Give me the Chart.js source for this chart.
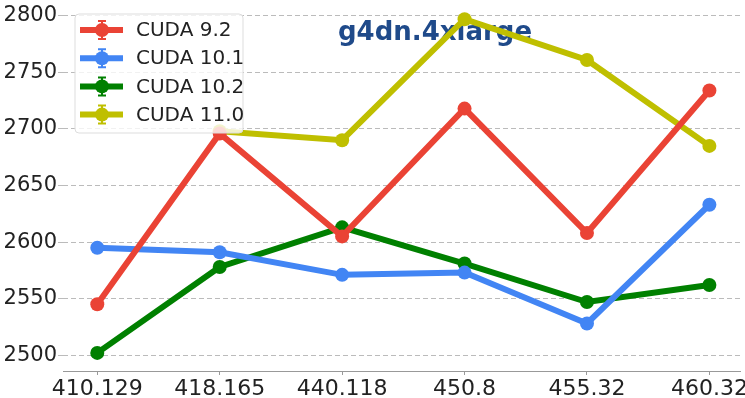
<!DOCTYPE html>
<html>
<head>
<meta charset="utf-8">
<script src="https://cdn.jsdelivr.net/npm/chart.js@4"></script>
<style>
  body { margin: 0; background: #fff; }
  #wrap { width: 745px; height: 398px; }
</style>
</head>
<body>
<div id="wrap"><canvas id="myChart" width="745" height="398"></canvas></div>
<script>
const categories = ['410.129', '418.165', '440.118', '450.8', '455.32', '460.32'];
const seriesNames = ['CUDA 9.2', 'CUDA 10.1', 'CUDA 10.2', 'CUDA 11.0'];
const cuda92 = [2545, 2696, 2605, 2718, 2608, 2734];
const cuda101 = [2595, 2591, 2571, 2573, 2528, 2633];
const cuda102 = [2502, 2578, 2613, 2581, 2547, 2562];
const cuda110 = [null, 2698, 2690, 2797, 2761, 2685];
const yTicks = [2500, 2550, 2600, 2650, 2700, 2750, 2800];
const chartTitle = 'g4dn.4xlarge';

const colors = ['#EA4335', '#4285F4', '#008000', '#BFBF00'];
const allSeries = [cuda92, cuda101, cuda102, cuda110];

const toPoints = arr => arr.map((v, i) => ({ x: i, y: v }));

// legend + title drawn inside the plot, like the matplotlib original
const overlayPlugin = {
    id: 'overlay',
    beforeDatasetsDraw(chart) {
        const ctx = chart.ctx;
        ctx.save();
        ctx.font = 'bold 26px "DejaVu Sans"';
        ctx.fillStyle = '#1F4A8A';
        ctx.textAlign = 'center';
        ctx.textBaseline = 'middle';
        ctx.fillText(chartTitle, 435, 33);
        ctx.restore();
    },
    afterDraw(chart) {
        const ctx = chart.ctx;
        ctx.save();
        const bx = 75, by = 14, bw = 168, bh = 119, r = 4;
        ctx.beginPath();
        ctx.roundRect(bx, by, bw, bh, r);
        ctx.fillStyle = 'rgba(255,255,255,0.8)';
        ctx.fill();
        ctx.strokeStyle = '#DDDDDD';
        ctx.lineWidth = 1;
        ctx.stroke();

        chart.data.datasets.forEach((ds, i) => {
            const y = 30 + i * 28.2;
            const c = ds.borderColor;
            ctx.strokeStyle = c;
            ctx.lineWidth = 6;
            ctx.beginPath();
            ctx.moveTo(80, y);
            ctx.lineTo(123, y);
            ctx.stroke();
            // error bar glyph
            ctx.lineWidth = 2;
            ctx.beginPath();
            ctx.moveTo(102, y - 9); ctx.lineTo(102, y + 9);
            ctx.moveTo(98, y - 9); ctx.lineTo(106, y - 9);
            ctx.moveTo(98, y + 9); ctx.lineTo(106, y + 9);
            ctx.stroke();
            ctx.fillStyle = c;
            ctx.beginPath();
            ctx.arc(102, y, 7, 0, Math.PI * 2);
            ctx.fill();

            ctx.fillStyle = '#222';
            ctx.font = '20px "DejaVu Sans"';
            ctx.textAlign = 'left';
            ctx.textBaseline = 'middle';
            ctx.fillText(ds.label, 136, y + 1);
        });
        ctx.restore();
    }
};

const ctx = document.getElementById('myChart').getContext('2d');
const myChart = new Chart(ctx, {
    type: 'line',
    data: {
        datasets: allSeries.map((s, i) => ({
            label: seriesNames[i],
            data: toPoints(s),
            borderColor: colors[i],
            backgroundColor: colors[i],
            borderWidth: 6,
            pointRadius: 7,
            pointBorderWidth: 0,
            pointBackgroundColor: colors[i],
            tension: 0
        }))
    },
    options: {
        responsive: false,
        animation: false,
        layout: { autoPadding: false, padding: { left: 0, right: 5, top: 0, bottom: 0 } },
        plugins: {
            legend: { display: false },
            title: { display: false },
            tooltip: { enabled: false }
        },
        scales: {
            x: {
                type: 'linear',
                min: -0.28,
                max: 5.25,
                afterBuildTicks: scale => {
                    scale.ticks = categories.map((_, i) => ({ value: i }));
                },
                afterFit: scale => {
                    scale.height = 27;
                    scale.paddingLeft = 0;
                    scale.paddingRight = 0;
                },
                grid: { drawOnChartArea: false, tickLength: 4, color: '#999' },
                border: { display: true, color: '#999', width: 1 },
                ticks: {
                    autoSkip: false,
                    maxRotation: 0,
                    padding: 1,
                    color: '#222',
                    font: { family: 'DejaVu Sans', size: 22 },
                    callback: value => categories[value]
                }
            },
            y: {
                min: 2486,
                max: 2814,
                afterBuildTicks: scale => {
                    scale.ticks = yTicks.map(v => ({ value: v }));
                },
                afterFit: scale => {
                    scale.width = 63;
                    scale.paddingTop = 0;
                    scale.paddingBottom = 0;
                },
                grid: { color: '#BBBBBB', tickLength: 5 },
                border: { display: false, dash: [5, 3] },
                ticks: {
                    padding: 1,
                    color: '#222',
                    font: { family: 'DejaVu Sans', size: 21 },
                    callback: value => String(value)
                }
            }
        }
    },
    plugins: [overlayPlugin]
});
</script>
</body>
</html>
